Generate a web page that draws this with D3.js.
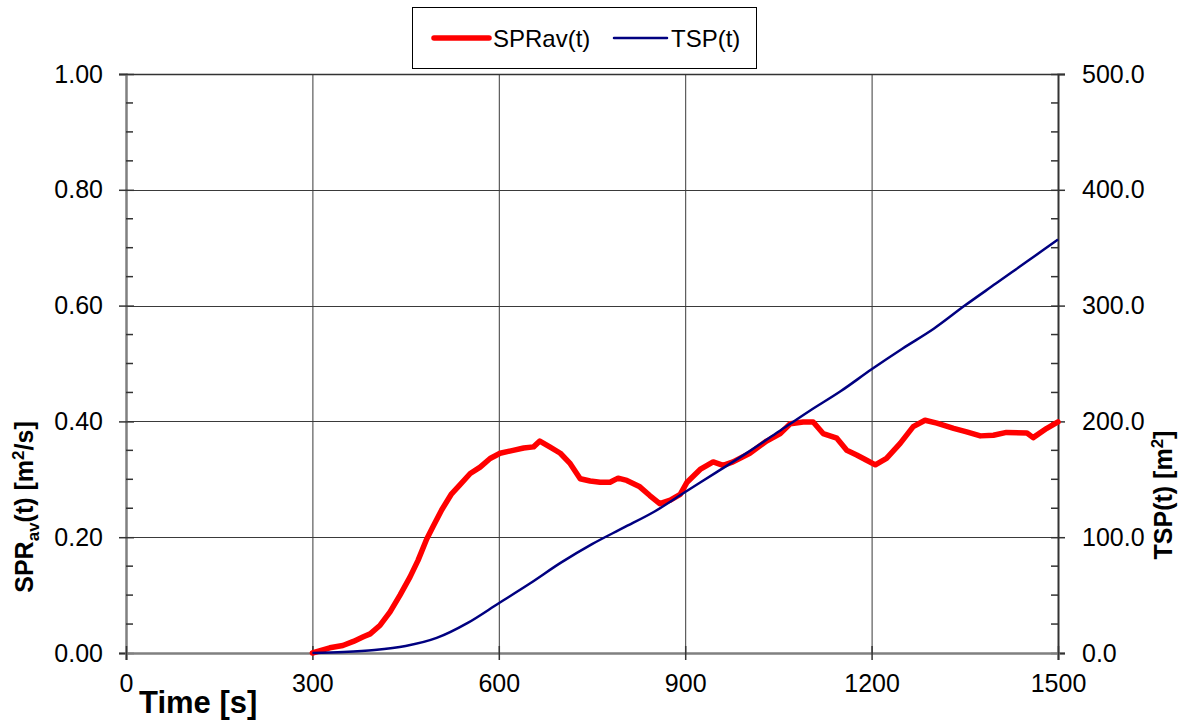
<!DOCTYPE html>
<html>
<head>
<meta charset="utf-8">
<script src="https://cdn.jsdelivr.net/npm/d3@7"></script>
<style>
  html, body { margin: 0; padding: 0; background: #fff; }
  svg { display: block; font-family: "Liberation Sans", Arial, sans-serif; }
</style>
</head>
<body>
<svg id="chart" width="1184" height="720"></svg>
<script>
// Average spread rate SPRav(t) (left axis, m²/s)
const sprTime = [300, 328, 349, 366, 382, 393, 409, 425, 441, 457, 470, 484, 494, 508, 524, 537, 554, 570, 586, 602, 623, 640, 656, 666, 682, 699, 715, 731, 747, 763, 779, 792, 806, 827, 843, 859, 876, 892, 903, 924, 945, 961, 977, 1004, 1031, 1053, 1069, 1090, 1106, 1122, 1144, 1160, 1176, 1192, 1206, 1224, 1246, 1267, 1286, 1305, 1332, 1353, 1375, 1396, 1417, 1450, 1460, 1482, 1500];
const sprValue = [0.000, 0.009, 0.013, 0.020, 0.028, 0.033, 0.048, 0.071, 0.100, 0.131, 0.160, 0.197, 0.218, 0.247, 0.275, 0.290, 0.310, 0.321, 0.336, 0.345, 0.350, 0.354, 0.356, 0.366, 0.356, 0.345, 0.327, 0.301, 0.297, 0.295, 0.295, 0.302, 0.298, 0.287, 0.272, 0.258, 0.264, 0.274, 0.295, 0.317, 0.330, 0.324, 0.330, 0.345, 0.366, 0.379, 0.396, 0.399, 0.399, 0.379, 0.371, 0.350, 0.342, 0.333, 0.325, 0.336, 0.362, 0.391, 0.402, 0.397, 0.388, 0.382, 0.375, 0.376, 0.381, 0.380, 0.372, 0.388, 0.399];

// Total spread TSP(t) (right axis, m²)
const tspTime = [300, 350, 400, 450, 500, 550, 600, 650, 700, 750, 800, 850, 900, 950, 1000, 1050, 1100, 1150, 1200, 1250, 1300, 1350, 1400, 1450, 1500];
const tspValue = [0, 0.8, 2.5, 6, 13, 26, 43, 60, 78, 94, 108, 122, 139, 156, 173, 191, 209, 226, 245, 263, 280, 300, 319, 338, 357];

const xTicks = [0, 300, 600, 900, 1200, 1500];
const yLeftTicks = [0, 0.2, 0.4, 0.6, 0.8, 1.0];
const yRightTicks = [0, 100, 200, 300, 400, 500];

const seriesNames = ["SPRav(t)", "TSP(t)"];
const seriesColors = ["#ff0000", "#000080"];

const svg = d3.select("#chart");
const plotLeft = 126, plotRight = 1058, plotTop = 74, plotBottom = 653;

const x = d3.scaleLinear().domain([0, 1500]).range([plotLeft, plotRight]);
const yL = d3.scaleLinear().domain([0, 1]).range([plotBottom, plotTop]);
const yR = d3.scaleLinear().domain([0, 500]).range([plotBottom, plotTop]);

const fontSize = 25;

// gridlines
const grid = svg.append("g").attr("stroke", "#3a3a3a").attr("stroke-width", 1);
grid.selectAll(".vg").data(xTicks.filter(t => t > 0 && t < 1500)).join("line")
  .attr("x1", d => x(d) + 0.5).attr("x2", d => x(d) + 0.5)
  .attr("y1", plotTop).attr("y2", plotBottom);
grid.selectAll(".hg").data(yLeftTicks.filter(t => t > 0 && t < 1)).join("line")
  .attr("x1", plotLeft).attr("x2", plotRight)
  .attr("y1", d => Math.round(yL(d)) + 0.5).attr("y2", d => Math.round(yL(d)) + 0.5);

// top border
svg.append("line").attr("x1", plotLeft).attr("x2", plotRight).attr("y1", plotTop + 0.5).attr("y2", plotTop + 0.5)
  .attr("stroke", "#333").attr("stroke-width", 1.5);

// axes
const gL = svg.append("g").attr("transform", `translate(${plotLeft},0)`)
  .call(d3.axisLeft(yL).tickValues(yLeftTicks).tickFormat(d3.format(".2f")).tickSize(7).tickPadding(16));
const gR = svg.append("g").attr("transform", `translate(${plotRight},0)`)
  .call(d3.axisRight(yR).tickValues(yRightTicks).tickFormat(d3.format(".1f")).tickSize(7).tickPadding(17));
const gB = svg.append("g").attr("transform", `translate(0,${plotBottom})`)
  .call(d3.axisBottom(x).tickValues(xTicks).tickFormat(d3.format("d")).tickSize(7).tickPadding(14));

[gL, gR, gB].forEach(g => {
  g.selectAll("text").attr("font-size", fontSize).attr("fill", "#000")
    .attr("font-family", "'Liberation Sans', Arial, sans-serif");
  g.selectAll(".tick line").attr("stroke", "#333").attr("stroke-width", 1.5);
});
gL.select(".domain").attr("stroke", "#808080").attr("stroke-width", 2.5);
gB.select(".domain").attr("stroke", "#808080").attr("stroke-width", 2.5);
gR.select(".domain").attr("stroke", "#333").attr("stroke-width", 2);

// major ticks cross the axis
gL.selectAll(".tick line").attr("x1", 8);
gR.selectAll(".tick line").attr("x1", -7);
gB.selectAll(".tick line").attr("y1", -7);

// minor ticks on the inside of both value axes
const minorL = d3.range(0, 1.0001, 0.05).filter(v => Math.abs(v * 5 - Math.round(v * 5)) > 1e-6);
svg.append("g").selectAll("line").data(minorL).join("line")
  .attr("x1", plotLeft).attr("x2", plotLeft + 7)
  .attr("y1", d => yL(d)).attr("y2", d => yL(d))
  .attr("stroke", "#333").attr("stroke-width", 1.5);
svg.append("g").selectAll("line").data(minorL).join("line")
  .attr("x1", plotRight - 7).attr("x2", plotRight)
  .attr("y1", d => yL(d)).attr("y2", d => yL(d))
  .attr("stroke", "#333").attr("stroke-width", 1.5);

// series
const lineSpr = d3.line().x((d, i) => x(sprTime[i])).y(d => yL(d));
const lineTsp = d3.line().x((d, i) => x(tspTime[i])).y(d => yR(d)).curve(d3.curveMonotoneX);

svg.append("path").datum(sprValue).attr("d", lineSpr)
  .attr("fill", "none").attr("stroke", seriesColors[0]).attr("stroke-width", 5.5)
  .attr("stroke-linejoin", "round").attr("stroke-linecap", "round");
svg.append("path").datum(tspValue).attr("d", lineTsp)
  .attr("fill", "none").attr("stroke", seriesColors[1]).attr("stroke-width", 2.5)
  .attr("stroke-linejoin", "round");

// axis titles
svg.append("text").attr("x", 139).attr("y", 713)
  .attr("font-size", 31).attr("font-weight", "bold").text("Time [s]");

const lt = svg.append("text").attr("transform", "translate(33,507) rotate(-90)")
  .attr("text-anchor", "middle").attr("font-size", 25).attr("font-weight", "bold");
lt.append("tspan").text("SPR");
lt.append("tspan").attr("font-size", 17).attr("dy", 6).text("av");
lt.append("tspan").attr("dy", -6).text("(t) [m");
lt.append("tspan").attr("font-size", 17).attr("dy", -9).text("2");
lt.append("tspan").attr("dy", 9).text("/s]");

const rt = svg.append("text").attr("transform", "translate(1172,495) rotate(-90)")
  .attr("text-anchor", "middle").attr("font-size", 25).attr("font-weight", "bold");
rt.append("tspan").text("TSP(t) [m");
rt.append("tspan").attr("font-size", 17).attr("dy", -9).text("2");
rt.append("tspan").attr("dy", 9).text("]");

// legend
const lg = svg.append("g");
lg.append("rect").attr("x", 412.5).attr("y", 7.5).attr("width", 344).attr("height", 61)
  .attr("fill", "#fff").attr("stroke", "#000").attr("stroke-width", 1);
const legendItems = [
  { x1: 434, x2: 489, tx: 493, w: 5.5 },
  { x1: 614, x2: 667, tx: 671, w: 2.5 }
];
legendItems.forEach((it, i) => {
  lg.append("line").attr("x1", it.x1).attr("x2", it.x2).attr("y1", 38).attr("y2", 38)
    .attr("stroke", seriesColors[i]).attr("stroke-width", it.w).attr("stroke-linecap", "round");
  lg.append("text").attr("x", it.tx).attr("y", 47).attr("font-size", 24).text(seriesNames[i]);
});
</script>
</body>
</html>
